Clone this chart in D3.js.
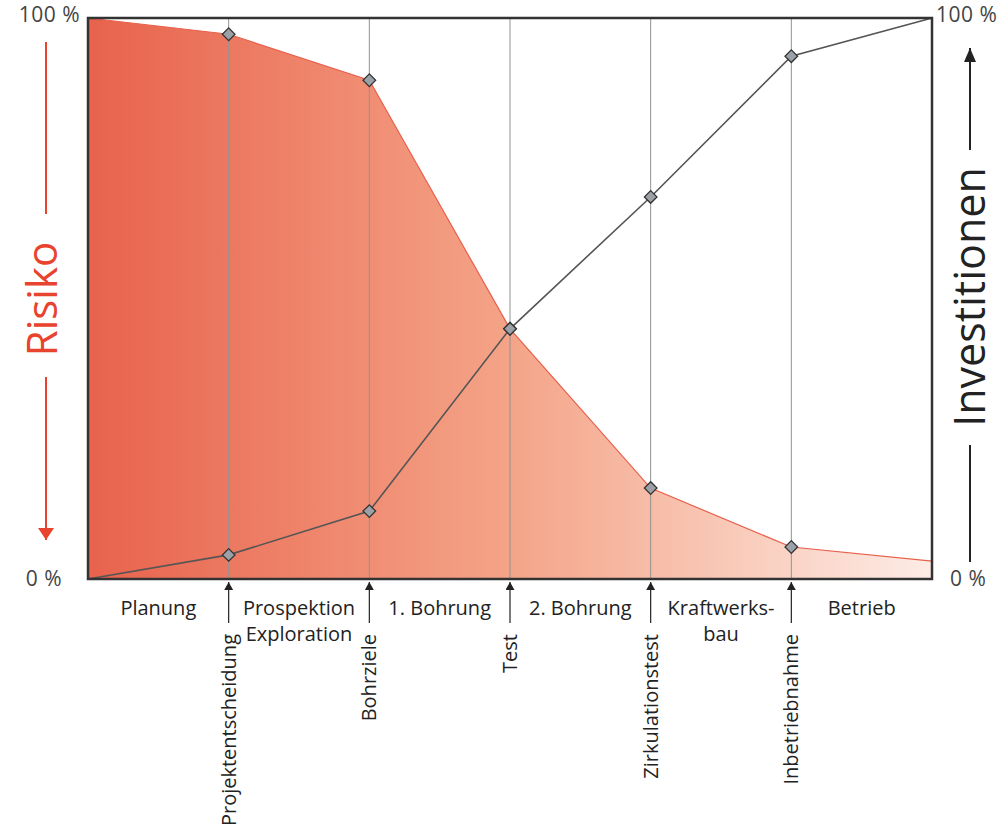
<!DOCTYPE html>
<html><head><meta charset="utf-8">
<script src="https://cdn.jsdelivr.net/npm/d3@7"></script>
<style>
html,body{margin:0;padding:0;background:#fff;}
svg{display:block;font-family:"Open Sans","Noto Sans",sans-serif;}
</style></head>
<body>
<svg id="chart" width="1001" height="835"></svg>
<script>
// ---- data ----
const steps = [0, 1, 2, 3, 4, 5, 6];
const milestones = ["", "Projektentscheidung", "Bohrziele", "Test", "Zirkulationstest", "Inbetriebnahme", ""];
const phases = [["Planung"], ["Prospektion", "Exploration"], ["1. Bohrung"], ["2. Bohrung"], ["Kraftwerks-", "bau"], ["Betrieb"]];
const risk = [100, 97.1, 88.9, 44.6, 16.2, 5.7, 3.2];
const invest = [0, 4.3, 12.1, 44.6, 68.1, 93.2, 100];
const pctTicks = [0, 100];

const svg = d3.select("#chart");
const L = 88, R = 932, T = 18, B = 579;
const x = d3.scaleLinear().domain([0, 6]).range([L, R]);
const y = d3.scaleLinear().domain([0, 100]).range([B, T]);

const defs = svg.append("defs");
const grad = defs.append("linearGradient").attr("id", "rg").attr("x1", "0").attr("x2", "1").attr("y1", "0").attr("y2", "0");
grad.append("stop").attr("offset", "0").attr("stop-color", "#e8624c");
grad.append("stop").attr("offset", "0.5").attr("stop-color", "#f4a488");
grad.append("stop").attr("offset", "1").attr("stop-color", "#fdece6");
const mk = (id, col) => defs.append("marker").attr("id", id).attr("viewBox", "0 0 10 10").attr("refX", 10).attr("refY", 5)
  .attr("markerWidth", 8).attr("markerHeight", 9).attr("markerUnits", "userSpaceOnUse").attr("orient", "auto")
  .attr("preserveAspectRatio", "none")
  .append("path").attr("d", "M0,0L10,5L0,10Z").attr("fill", col);
mk("ab", "#222");

// risk area
const area = d3.area().x((d, i) => x(steps[i])).y0(y(0)).y1(d => y(d));
svg.append("path").datum(risk).attr("d", area).attr("fill", "url(#rg)");
const rline = d3.line().x((d, i) => x(steps[i])).y(d => y(d));
svg.append("path").datum(risk).attr("d", rline).attr("fill", "none").attr("stroke", "#e8604b").attr("stroke-width", 1.2);

// vertical grid lines
const inner = steps.slice(1, -1);
svg.selectAll(".vg").data(inner).join("line")
  .attr("x1", d => x(d)).attr("x2", d => x(d)).attr("y1", T).attr("y2", B)
  .attr("stroke", "#929292").attr("stroke-width", 1);

// investment line
const iline = d3.line().x((d, i) => x(steps[i])).y(d => y(d));
svg.append("path").datum(invest).attr("d", iline).attr("fill", "none").attr("stroke", "#555").attr("stroke-width", 1.6);

// markers
const sym = d3.symbol().type(d3.symbolSquare).size(80);
const addMarkers = arr => svg.selectAll(null).data(inner).join("path")
  .attr("d", sym).attr("transform", d => `translate(${x(d)},${y(arr[d])}) rotate(45)`)
  .attr("fill", "#9ca1a7").attr("stroke", "#333").attr("stroke-width", 1.3);
addMarkers(risk);
addMarkers(invest);

// frame
svg.append("rect").attr("x", L).attr("y", T).attr("width", R - L).attr("height", B - T)
  .attr("fill", "none").attr("stroke", "#333").attr("stroke-width", 2.5);

// percent axes
const fmt = d => d + " %";
const la = svg.append("g").attr("transform", `translate(${L - 8},0)`)
  .call(d3.axisLeft(y).tickValues(pctTicks).tickFormat(fmt).tickSize(0));
la.select(".domain").remove();
la.selectAll("text").attr("font-size", 21).attr("fill", "#444").attr("font-family", "Open Sans")
  .attr("letter-spacing", 0.5)
  .attr("dy", d => d === 100 ? "0.15em" : "0.3em").attr("x", d => d === 100 ? 0 : -18);
const ra = svg.append("g").attr("transform", `translate(${R + 4},0)`)
  .call(d3.axisRight(y).tickValues(pctTicks).tickFormat(fmt).tickSize(0));
ra.select(".domain").remove();
ra.selectAll("text").attr("font-size", 21).attr("fill", "#444").attr("font-family", "Open Sans")
  .attr("letter-spacing", 0.5)
  .attr("dy", d => d === 100 ? "0.15em" : "0.3em").attr("x", d => d === 100 ? 0 : 14);

// milestone arrows + labels
svg.selectAll(".ma").data(inner).join("line")
  .attr("x1", d => x(d)).attr("x2", d => x(d)).attr("y1", 623).attr("y2", 582)
  .attr("stroke", "#222").attr("stroke-width", 1.2).attr("marker-end", "url(#ab)");
svg.selectAll(".ml").data(inner).join("text")
  .attr("transform", d => `translate(${x(d) + 7},634) rotate(-90)`)
  .attr("text-anchor", "end").attr("font-size", 20).attr("fill", "#222")
  .text(d => milestones[d]);

// phase labels
const pg = svg.selectAll(".ph").data(phases).join("text")
  .attr("text-anchor", "middle").attr("font-size", 20).attr("fill", "#222");
pg.each(function (lines, i) {
  const t = d3.select(this);
  lines.forEach((s, j) => t.append("tspan").attr("x", (x(steps[i]) + x(steps[i + 1])) / 2).attr("y", 615 + j * 26).text(s));
});

// Risiko side label
const rc = "#e8432e";
svg.append("line").attr("x1", 46).attr("x2", 46).attr("y1", 42).attr("y2", 214).attr("stroke", rc).attr("stroke-width", 2);
svg.append("text").attr("transform", "translate(57,299) rotate(-90)").attr("text-anchor", "middle")
  .attr("font-size", 42).attr("fill", rc).text("Risiko");
defs.append("marker").attr("id", "ar").attr("viewBox", "0 0 10 10").attr("refX", 10).attr("refY", 5)
  .attr("markerWidth", 12).attr("markerHeight", 16).attr("markerUnits", "userSpaceOnUse").attr("orient", "auto")
  .attr("preserveAspectRatio", "none")
  .append("path").attr("d", "M0,0L10,5L0,10Z").attr("fill", rc);
svg.append("line").attr("x1", 46).attr("x2", 46).attr("y1", 377).attr("y2", 540).attr("stroke", rc).attr("stroke-width", 2).attr("marker-end", "url(#ar)");

// Investitionen side label
const ic = "#222";
defs.append("marker").attr("id", "ai").attr("viewBox", "0 0 10 10").attr("refX", 10).attr("refY", 5)
  .attr("markerWidth", 14).attr("markerHeight", 12).attr("markerUnits", "userSpaceOnUse").attr("orient", "auto")
  .attr("preserveAspectRatio", "none")
  .append("path").attr("d", "M0,0L10,5L0,10Z").attr("fill", ic);
svg.append("line").attr("x1", 970).attr("x2", 970).attr("y1", 150).attr("y2", 48).attr("stroke", ic).attr("stroke-width", 2).attr("marker-end", "url(#ai)");
svg.append("text").attr("transform", "translate(985,297) rotate(-90)").attr("text-anchor", "middle")
  .attr("font-size", 43).attr("fill", ic).text("Investitionen");
svg.append("line").attr("x1", 970).attr("x2", 970).attr("y1", 445).attr("y2", 562).attr("stroke", ic).attr("stroke-width", 2);
</script>
</body></html>
